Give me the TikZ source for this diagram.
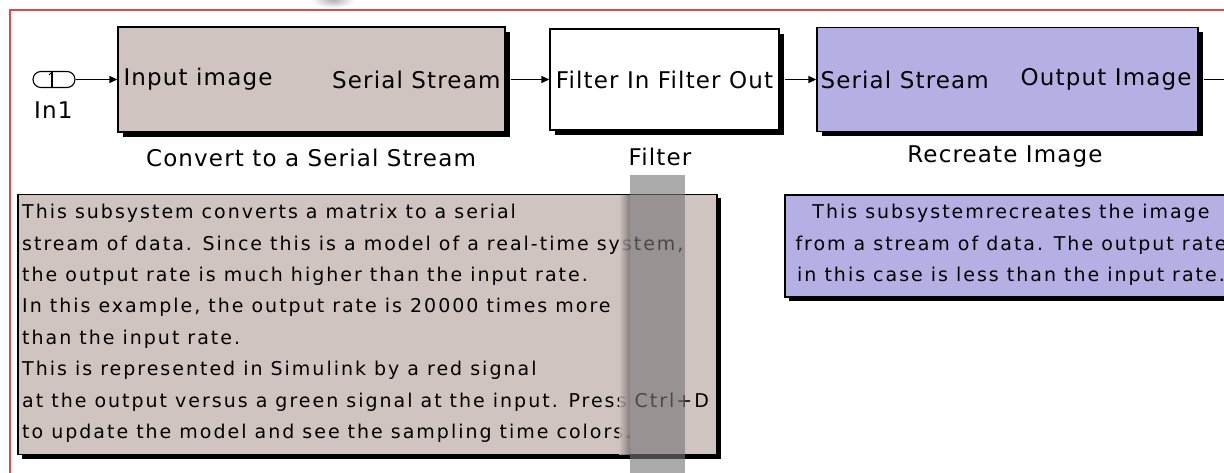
\documentclass[tikz,border=0pt]{standalone}
\usepackage{fontspec}
\setmainfont{DejaVu Sans}
\newfontfamily\blkfont[LetterSpace=5]{DejaVu Sans}
\newfontfamily\notefont[LetterSpace=10.5]{DejaVu Sans}
\usetikzlibrary{arrows.meta,shadows}
\definecolor{taupe}{RGB}{208,196,193}
\definecolor{lav}{RGB}{180,176,228}
\definecolor{framered}{RGB}{226,72,72}
\definecolor{bargray}{RGB}{118,118,118}
\tikzset{
  blk/.style={draw=black, line width=1.3pt, inner sep=0pt,
    general shadow={fill=black, shadow xshift=5pt, shadow yshift=-5pt}},
  note/.style={draw=black, line width=1.3pt, inner sep=0pt,
    general shadow={fill=black, shadow xshift=4pt, shadow yshift=-4pt}},
  conn/.style={line width=1.3pt, -{Triangle[length=8pt,width=7pt]}},
  plain/.style={line width=1.3pt},
  blktext/.style={font=\blkfont\fontsize{23}{28}\selectfont, inner sep=0pt},
  lbltext/.style={font=\blkfont\fontsize{23}{28}\selectfont, inner sep=0pt},
  notetext/.style={font=\notefont\fontsize{19}{31.4}\selectfont, inner sep=0pt},
}
\begin{document}
\begin{tikzpicture}[x=1pt,y=-1pt]
\useasboundingbox (0,0) rectangle (1224,473);
\clip (0,0) rectangle (1224,473);
\fill[white] (0,0) rectangle (1224,473);
% faint blur at top
\shade[inner color=black!30, outer color=white] (333,0) ellipse [x radius=22pt, y radius=8pt];
% frame
\draw[framered, line width=2.2pt] (10,480) -- (10,10) -- (1240,10);
% in port
\node[draw, line width=1.1pt, rounded corners=8pt, minimum width=42pt, minimum height=16pt, inner sep=0pt] (in1) at (54,79.5) {};
\draw[line width=1.1pt] ([xshift=-2pt]in1.north) -- ([xshift=-2pt]in1.south);
\draw[line width=1pt] (49,75) -- (52,72);
\node[lbltext, anchor=west] (in1lbl) at (34,110) {In1};
% blocks
\node[blk, fill=taupe, minimum width=387pt, minimum height=105pt] (b1) at (311.5,79.5) {};
\node[blk, fill=white, minimum width=229pt, minimum height=101pt] (b2) at (664.5,79.5) {};
\node[blk, fill=lav, minimum width=381pt, minimum height=104pt] (b3) at (1007.5,79.5) {};
% port labels
\node[blktext, anchor=west] (b1in) at ([xshift=6pt]b1.west) {Input image};
\node[blktext, anchor=east] (b1out) at ([xshift=-5pt]b1.east) {Serial Stream};
\node[blktext] (b2txt) at (b2.center) {Filter In Filter Out};
\node[blktext, anchor=west] (b3in) at ([xshift=4pt]b3.west) {Serial Stream};
\node[blktext, anchor=east] (b3out) at ([xshift=-7pt]b3.east) {Output Image};
% block names
\node[lbltext] (b1lbl) at (311,158) {Convert to a Serial Stream};
\node[lbltext] (b2lbl) at (660,157) {Filter};
\node[lbltext] (b3lbl) at (1005,157) {Recreate Image};
% connectors
\draw[conn] (in1.east) -- (b1.west);
\draw[conn] ([xshift=5pt]b1.east) -- (b2.west);
\draw[conn] ([xshift=5pt]b2.east) -- (b3.west);
\coordinate (outend) at (1230,79.5);
\draw[plain] ([xshift=5pt]b3.east) -- (outend);
% annotations
\node[note, fill=taupe, minimum width=699pt, minimum height=260pt] (a1) at (367.5,324.5) {};
\node[notetext, anchor=north west, align=left] (a1txt) at (22,204) {This subsystem converts a matrix to a serial\\
stream of data. Since this is a model of a real-time system,\\
the output rate is much higher than the input rate.\\
In this example, the output rate is 20000 times more\\
than the input rate.\\
This is represented in Simulink by a red signal\\
at the output versus a green signal at the input. Press Ctrl+D\\
to update the model and see the sampling time colors.};
\node[note, fill=lav, minimum width=460pt, minimum height=102pt] (a2) at (1015,246) {};
\node[notetext, anchor=north, align=center] (a2txt) at (1011,204) {This subsystemrecreates the image\\
from a stream of data. The output rate\\
in this case is less than the input rate.};
% overlay bar with soft dark left edge
\shade[left color=taupe, right color=taupe!55!black, opacity=0.8] (619,196) rectangle (630,454);
\fill[bargray, opacity=0.62] (630,175) rectangle (685,480);
\end{tikzpicture}
\end{document}
